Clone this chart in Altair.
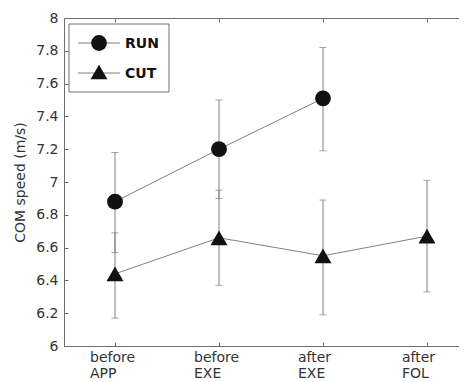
import altair as alt
import pandas as pd

categories = ["before APP", "before EXE", "after EXE", "after FOL"]
series = ["RUN", "CUT"]
shapes = ["circle", "triangle-up"]
marker_sizes = [250, 290]

run_mean = [6.88, 7.20, 7.51, None]
run_lo = [6.57, 6.90, 7.19, None]
run_hi = [7.18, 7.50, 7.82, None]

cut_mean = [6.44, 6.66, 6.55, 6.67]
cut_lo = [6.17, 6.37, 6.19, 6.33]
cut_hi = [6.69, 6.95, 6.89, 7.01]

y_ticks = [6.0, 6.2, 6.4, 6.6, 6.8, 7.0, 7.2, 7.4, 7.6, 7.8, 8.0]
y_title = "COM speed (m/s)"

rows = []
for s, means, los, his in [("RUN", run_mean, run_lo, run_hi), ("CUT", cut_mean, cut_lo, cut_hi)]:
    for i, c in enumerate(categories):
        if means[i] is None:
            continue
        rows.append({"series": s, "cat": c, "idx": i + 1, "mean": means[i], "lo": los[i], "hi": his[i]})
df = pd.DataFrame(rows)
cat_idx = list(range(1, len(categories) + 1))
cat_df = pd.DataFrame({"idx": cat_idx, "label": categories})

FONT = "DejaVu Sans"
AX = "#6e6e6e"
LINE = "#808080"
MK = "#111111"
TXT = "#333333"

W, H = 395, 328
step = 104.0
xmin = 1 - 51.0 / step
xmax = xmin + W / step

xscale = alt.Scale(domain=[xmin, xmax], nice=False, zero=False)
yscale = alt.Scale(domain=[6, 8], nice=False, zero=False)


def X(field, axis=None):
    return alt.X(field, type="quantitative", scale=xscale, axis=axis)


def Y(field, axis=None):
    return alt.Y(field, type="quantitative", scale=yscale, axis=axis)


# spines (domain lines only)
spine_common = dict(grid=False, ticks=False, labels=False, title=None,
                    domain=True, domainColor=AX, domainWidth=1)
spines = alt.Chart(df).mark_point(opacity=0).encode(
    x=X("idx", alt.Axis(orient="bottom", **spine_common)),
    y=Y("mean", alt.Axis(orient="left", **spine_common)))
top_spine = alt.Chart(df).mark_point(opacity=0).encode(
    x=X("idx", alt.Axis(orient="top", **spine_common)),
    y=Y("mean"))

# inward ticks + labels
tick_common = dict(grid=False, domain=False, offset=-4, tickSize=4, tickColor=AX, tickWidth=1)
ticks_main = alt.Chart(df).mark_point(opacity=0).encode(
    x=X("idx", alt.Axis(orient="bottom", values=cat_idx, labels=False, title=None, **tick_common)),
    y=Y("mean", alt.Axis(orient="left", values=y_ticks, format="~g", title=y_title,
                         labelPadding=6, labelFont=FONT, labelFontSize=14, labelColor=TXT,
                         titleFont=FONT, titleFontSize=14, titleFontWeight="normal",
                         titleColor=TXT, titlePadding=8, **tick_common)))
ticks_top = alt.Chart(df).mark_point(opacity=0).encode(
    x=X("idx", alt.Axis(orient="top", values=cat_idx, labels=False, title=None, **tick_common)),
    y=Y("mean"))

base = alt.Chart(df)

errbars = base.mark_rule(color=LINE, strokeWidth=1).encode(
    x=X("idx"), y=Y("lo"), y2="hi:Q")
cap_lo = base.mark_tick(color=LINE, thickness=1, size=7, orient="horizontal").encode(
    x=X("idx"), y=Y("lo"))
cap_hi = base.mark_tick(color=LINE, thickness=1, size=7, orient="horizontal").encode(
    x=X("idx"), y=Y("hi"))

lines = base.mark_line(color=LINE, strokeWidth=1).encode(
    x=X("idx"), y=Y("mean"), detail="series:N")

points = base.mark_point(filled=True, opacity=1, color=MK, strokeWidth=0).encode(
    x=X("idx"), y=Y("mean"),
    shape=alt.Shape("series:N", scale=alt.Scale(domain=series, range=shapes), legend=None),
    size=alt.Size("series:N", scale=alt.Scale(domain=series, range=marker_sizes), legend=None))

xlabels = alt.Chart(cat_df).mark_text(
    font=FONT, fontSize=14, color=TXT, align="left", baseline="top",
    lineBreak=" ", lineHeight=16, dx=-25).encode(
    x=X("idx"), y=alt.value(H + 5), text="label:N")

# legend (decoration)
one = alt.Data(values=[{}])
leg_layers = [
    alt.Chart(one).mark_rect(fill="white", stroke=AX, strokeWidth=1).encode(
        x=alt.value(5), x2=alt.value(105), y=alt.value(6), y2=alt.value(74))
]
leg_y = [25, 55]
for s, shp, sz, yy in zip(series, shapes, marker_sizes, leg_y):
    leg_layers.append(alt.Chart(one).mark_rule(color=LINE, strokeWidth=1).encode(
        x=alt.value(14), x2=alt.value(56), y=alt.value(yy)))
    leg_layers.append(alt.Chart(one).mark_point(
        filled=True, opacity=1, color=MK, strokeWidth=0, shape=shp, size=sz).encode(
        x=alt.value(35), y=alt.value(yy - 1 if shp != "circle" else yy)))
    leg_layers.append(alt.Chart(one).mark_text(
        text=s, font=FONT, fontSize=14, fontWeight="bold", color="#111111",
        align="left", baseline="middle").encode(
        x=alt.value(61), y=alt.value(yy + 1)))

chart = alt.layer(
    spines, top_spine, ticks_main, ticks_top,
    errbars, cap_lo, cap_hi, lines, points, xlabels, *leg_layers
).resolve_axis(x="independent", y="independent").properties(
    width=W, height=H,
    autosize=alt.AutoSizeParams(type="none"),
    padding={"left": 56, "top": 10, "right": 0, "bottom": 36},
).configure_view(stroke=None).configure(background="white")

chart.save("out.html", embed_options={"renderer": "svg", "actions": False})
